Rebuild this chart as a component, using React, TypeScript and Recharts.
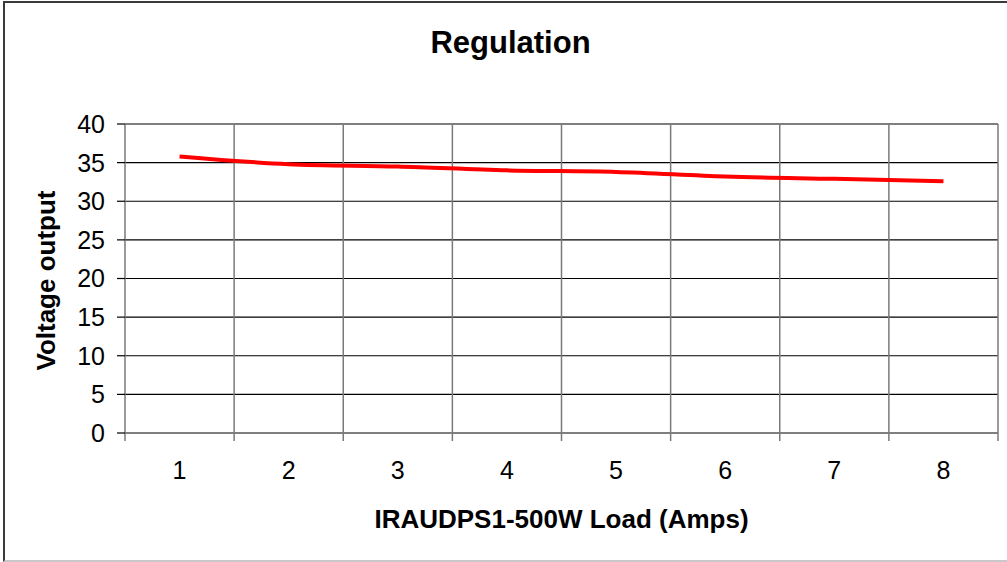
import React from "react";
import { LineChart, Line, XAxis, YAxis, CartesianGrid, Label } from "recharts";

// Load (A) against output voltage
const loads = [1, 2, 3, 4, 5, 6, 7, 8];
const voltage = [35.8, 34.8, 34.5, 34.0, 33.8, 33.2, 32.9, 32.6];
const yTicks = [0, 5, 10, 15, 20, 25, 30, 35, 40];

const data = loads.map((load, i) => ({ load, volts: voltage[i] }));
// category boundaries, Excel puts grid lines and tick marks between the points
const boundaries = [...loads.map((l) => l - 0.5), loads[loads.length - 1] + 0.5];

const font = "'Liberation Sans', Arial, sans-serif";
const tickStyle = { fontSize: 25, fill: "#000", fontFamily: font };
const labelStyle = { fontSize: 26, fontWeight: "bold", fill: "#000", fontFamily: font };

export default function App() {
  return (
    <div style={{ position: "absolute", left: 0, top: 0, width: 1007, height: 562, background: "#fff", overflow: "hidden" }}>
      <div
        style={{
          position: "absolute",
          left: 3,
          top: 1,
          width: 1020,
          height: 557,
          borderLeft: "2px solid #3a3a3a",
          borderTop: "2px solid #3a3a3a",
          borderBottom: "2px solid #c8c8c8",
        }}
      />
      <div
        style={{
          position: "absolute",
          left: 0,
          top: 25,
          width: 1021,
          textAlign: "center",
          fontFamily: font,
          fontWeight: "bold",
          fontSize: 31,
          color: "#000",
        }}
      >
        Regulation
      </div>
      <div style={{ position: "absolute", left: 0, top: 0 }}>
        <LineChart width={1007} height={562} data={data} margin={{ top: 124, right: 9, left: 0, bottom: 0 }}>
          <CartesianGrid xAxisId="grid" vertical={false} stroke="#000" strokeWidth={1.2} />
          <CartesianGrid xAxisId="grid" horizontal={false} stroke="#7a7a7a" strokeWidth={1.5} />
          <XAxis
            xAxisId="grid"
            type="number"
            dataKey="load"
            domain={[boundaries[0], boundaries[boundaries.length - 1]]}
            ticks={boundaries}
            interval={0}
            tickFormatter={() => ""}
            tickSize={8}
            tickMargin={0}
            height={8}
            axisLine={false}
            tickLine={{ stroke: "#7a7a7a", strokeWidth: 1.5 }}
          />
          <XAxis
            xAxisId="main"
            type="number"
            dataKey="load"
            domain={[boundaries[0], boundaries[boundaries.length - 1]]}
            ticks={loads}
            interval={0}
            tick={tickStyle}
            tickSize={0}
            tickMargin={20}
            height={121}
            axisLine={false}
            tickLine={false}
          >
            <Label value="IRAUDPS1-500W Load (Amps)" position="center" dy={17} style={labelStyle} />
          </XAxis>
          <YAxis
            domain={[0, 40]}
            ticks={yTicks}
            width={125}
            tick={tickStyle}
            tickSize={8}
            tickMargin={12}
            axisLine={false}
            tickLine={{ stroke: "#000", strokeWidth: 1.2 }}
            interval={0}
          >
            <Label value="Voltage output" position="center" angle={-90} dx={-16.5} dy={2} style={labelStyle} />
          </YAxis>
          <Line
            xAxisId="main"
            type="monotone"
            dataKey="volts"
            stroke="#ff0000"
            strokeWidth={4}
            dot={false}
            isAnimationActive={false}
          />
        </LineChart>
      </div>
    </div>
  );
}
